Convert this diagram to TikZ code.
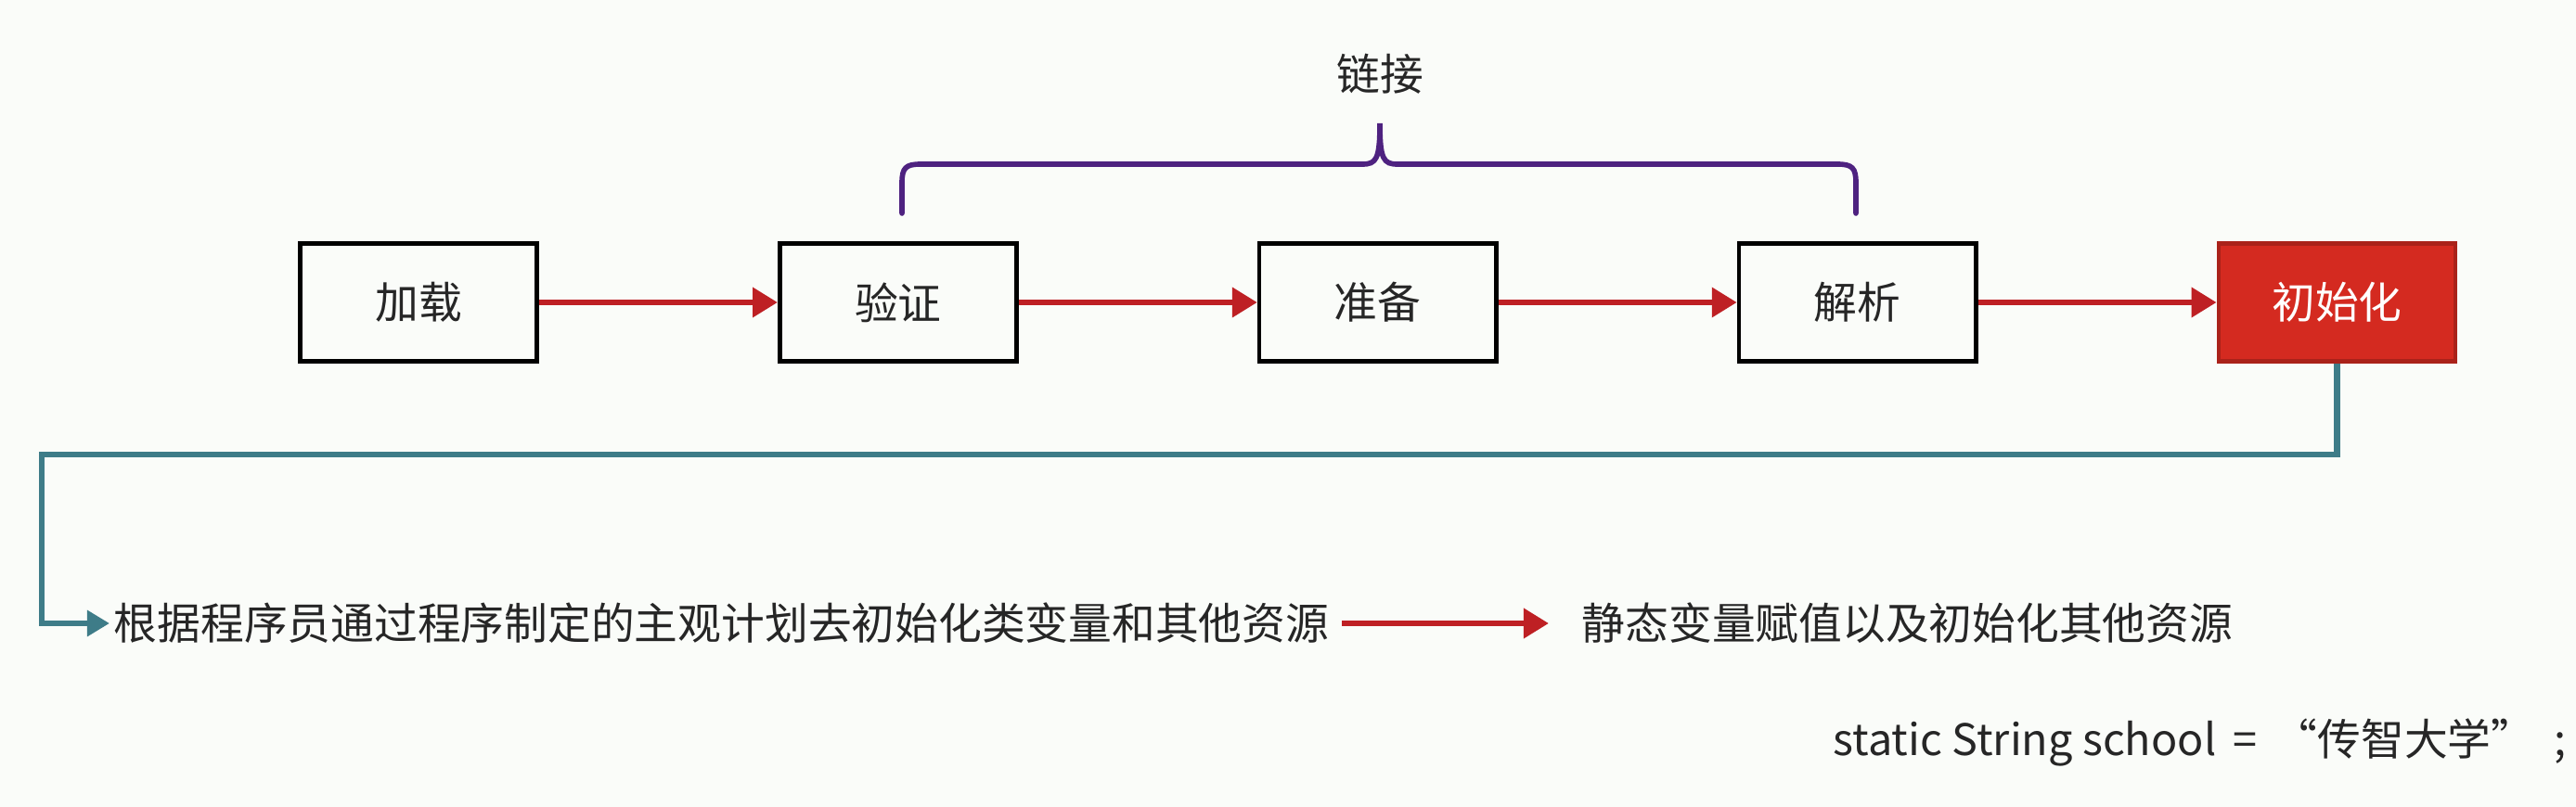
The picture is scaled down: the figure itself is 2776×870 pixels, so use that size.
\documentclass[tikz,border=0pt]{standalone}
\usepackage{fontspec}
\setmainfont{Noto Sans CJK SC}
\usetikzlibrary{positioning,arrows.meta}

\definecolor{flowred}{RGB}{190,32,36}
\definecolor{initred}{RGB}{212,42,32}
\definecolor{linkteal}{RGB}{62,124,136}
\definecolor{bracepurple}{RGB}{78,34,128}
\definecolor{paper}{RGB}{250,252,249}

\tikzset{
	txt/.style={font=\fontsize{13.3pt}{16pt}\selectfont, text=black!85},
	stagebox/.style={txt, draw=black, line width=1.3pt, minimum width=2.55cm, minimum height=1.27cm},
	initbox/.style={stagebox, draw=initred!80!black, fill=initred, text=white},
	flow/.style={draw=flowred, line width=1.9pt, -{Triangle[length=0.27cm,width=0.31cm]}},
	linkline/.style={draw=linkteal, line width=1.9pt, -{Triangle[length=0.24cm,width=0.27cm]}},
	bracket/.style={draw=bracepurple, line width=1.6pt, line cap=round}
}

\begin{document}
\begin{tikzpicture}[x=0.01cm, y=-0.01cm]
	\fill[paper] (0,0) rectangle (2776,870);
	\useasboundingbox (0,0) rectangle (2776,870);

	\node[stagebox] (load) at (451,326) {加载};
	\node[stagebox, right=2.57cm of load] (verify) {验证};
	\node[stagebox, right=2.57cm of verify] (prepare) {准备};
	\node[stagebox, right=2.57cm of prepare] (resolve) {解析};
	\node[initbox, right=2.57cm of resolve] (init) {初始化};

	\draw[flow] (load) -- (verify);
	\draw[flow] (verify) -- (prepare);
	\draw[flow] (prepare) -- (resolve);
	\draw[flow] (resolve) -- (init);

	% brace over the linking steps
	\draw[bracket] (972,230) -- (972,197) .. controls (972,181) and (976,177) .. (992,177) -- (1468,177)
		.. controls (1483,177) and (1487,172) .. (1487,133) .. controls (1487,172) and (1491,177) .. (1506,177)
		-- (1980,177) .. controls (1996,177) and (2000,181) .. (2000,197) -- (2000,230);
	\node[txt] (link) at (1487,80) {链接};

	\node[txt, anchor=west, inner sep=0pt] (rule) at (122,672) {根据程序员通过程序制定的主观计划去初始化类变量和其他资源};
	\node[txt, anchor=west, inner sep=0pt] (effect) at (1704,672) {静态变量赋值以及初始化其他资源};
	\node[txt, anchor=west, inner sep=0pt] (code) at (1975,800) {static String school\ \,=\ \,“传智大学”\ \ ;};

	\draw[linkline] (init.south) |- (45,490) |- ([xshift=-0.04cm]rule.west);
	\draw[flow, shorten <=0.13cm, shorten >=0.35cm] (rule) -- (effect);

\end{tikzpicture}
\end{document}
